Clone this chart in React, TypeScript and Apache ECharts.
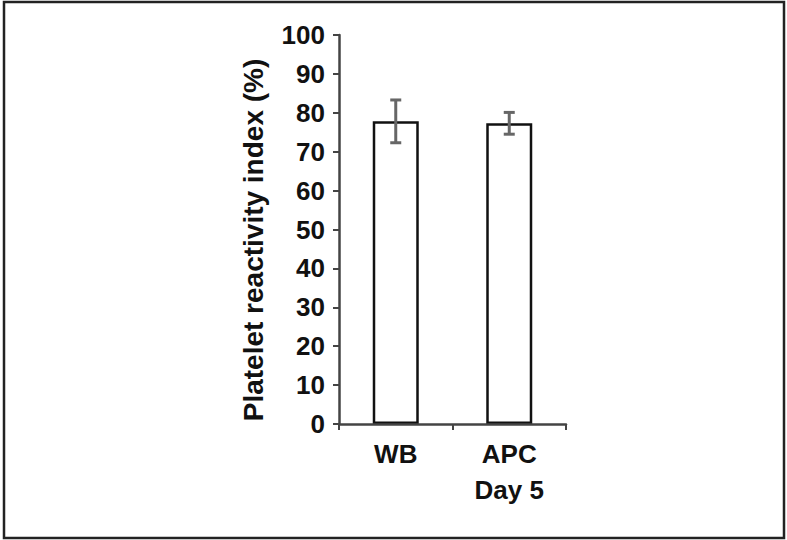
import React, { useEffect, useRef } from "react";
import * as echarts from "echarts";

const categories = ["WB", "APC\nDay 5"];
const means = [77.8, 77.3];
const errors = [5.5, 2.8];
const yTicks = { min: 0, max: 100, interval: 10 };
const yAxisTitle = "Platelet reactivity index (%)";

const FONT = "Liberation Sans, Arial, sans-serif";

export default function App() {
  const ref = useRef<HTMLDivElement>(null);
  useEffect(() => {
    if (!ref.current) return;
    const chart = echarts.init(ref.current, undefined, { renderer: "svg" });
    const errData = means.map((m, i) => [i, m - errors[i], m + errors[i]]);
    chart.setOption({
      animation: false,
      backgroundColor: "#ffffff",
      grid: { left: 339, right: 221, top: 35, bottom: 116 },
      graphic: [
        {
          type: "rect",
          shape: { x: 4, y: 2, width: 780, height: 536 },
          style: { fill: "none", stroke: "#222", lineWidth: 2.5 },
          silent: true,
        },
        {
          type: "text",
          x: 253,
          y: 240,
          rotation: Math.PI / 2,
          style: {
            text: yAxisTitle,
            fill: "#111",
            font: `bold 28px ${FONT}`,
            align: "center",
            verticalAlign: "middle",
          },
          silent: true,
        },
      ],
      xAxis: {
        type: "category",
        data: categories,
        z: 5,
        axisLine: { lineStyle: { color: "#444", width: 2.5 } },
        axisTick: { show: true, length: 6, lineStyle: { color: "#444", width: 2 } },
        axisLabel: {
          color: "#111",
          fontFamily: FONT,
          fontWeight: "bold",
          fontSize: 26,
          lineHeight: 36,
          margin: 12,
        },
      },
      yAxis: {
        type: "value",
        min: yTicks.min,
        max: yTicks.max,
        interval: yTicks.interval,
        z: 5,
        splitLine: { show: false },
        axisLine: { show: true, lineStyle: { color: "#444", width: 2.5 } },
        axisTick: { show: true, length: 6, lineStyle: { color: "#444", width: 2 } },
        axisLabel: {
          color: "#111",
          fontFamily: FONT,
          fontWeight: "bold",
          fontSize: 26,
          margin: 14,
          padding: [7, 0, 0, 0],
        },
      },
      series: [
        {
          type: "bar",
          data: means,
          barWidth: 46,
          itemStyle: { color: "#ffffff", borderColor: "#111", borderWidth: 2.5 },
        },
        {
          type: "custom",
          data: errData,
          renderItem: (params: any, api: any) => {
            const x = api.value(0);
            const lo = api.coord([x, api.value(1)]);
            const hi = api.coord([x, api.value(2)]);
            const cap = 5.5;
            const style = { stroke: "#666", lineWidth: 3 };
            return {
              type: "group",
              children: [
                { type: "line", shape: { x1: lo[0], y1: lo[1], x2: hi[0], y2: hi[1] }, style },
                { type: "line", shape: { x1: hi[0] - cap, y1: hi[1], x2: hi[0] + cap, y2: hi[1] }, style },
                { type: "line", shape: { x1: lo[0] - cap, y1: lo[1], x2: lo[0] + cap, y2: lo[1] }, style },
              ],
            };
          },
          z: 3,
        },
      ],
    });
    return () => chart.dispose();
  }, []);
  return (
    <div
      ref={ref}
      style={{ position: "fixed", left: 0, top: 0, width: 787, height: 540 }}
    />
  );
}
